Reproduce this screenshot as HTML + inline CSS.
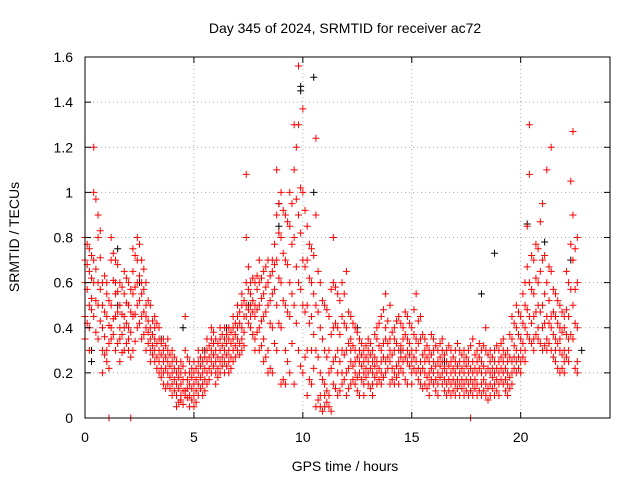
<!DOCTYPE html>
<html><head><meta charset="utf-8"><style>
body{margin:0;background:#fff;}
svg text{font-family:"Liberation Sans",sans-serif;font-size:14px;fill:#000;}
</style></head><body>
<svg id="chart" width="640" height="480" viewBox="0 0 640 480" xmlns="http://www.w3.org/2000/svg">
<rect x="0" y="0" width="640" height="480" fill="#fff"/>
<g id="grid"></g>
<g id="black"></g>
<g id="red"></g>
<rect x="85" y="57" width="525" height="361" fill="none" stroke="#000" stroke-width="1"/>
<g id="ticks"></g>
<text x="345" y="33" text-anchor="middle">Day 345 of 2024, SRMTID for receiver ac72</text>
<text x="345" y="471" text-anchor="middle">GPS time / hours</text>
<text x="19" y="237" text-anchor="middle" transform="rotate(-90 19 237)">SRMTID / TECUs</text>
</svg>
<script>
const xTicks=[0,5,10,15,20];
const yTicks=[0,0.2,0.4,0.6,0.8,1,1.2,1.4,1.6];
const yTickLabels=["0","0.2","0.4","0.6","0.8","1","1.2","1.4","1.6"];
const redTimes=[0,0.2,0.4,0.6,0.8,1,1.2,1.4,1.6,1.8,2,2.2,2.4,2.6,2.8,3,3.2,3.4,3.6,3.8,4,4.2,4.4,4.6,4.8,5,5.2,5.4,5.6,5.8,6,6.2,6.4,6.6,6.8,7,7.2,7.4,7.6,7.8,8,8.2,8.4,8.6,8.8,9,9.2,9.4,9.6,9.8,10,10.2,10.4,10.6,10.8,11,11.2,11.4,11.6,11.8,12,12.2,12.4,12.6,12.8,13,13.2,13.4,13.6,13.8,14,14.2,14.4,14.6,14.8,15,15.2,15.4,15.6,15.8,16,16.2,16.4,16.6,16.8,17,17.2,17.4,17.6,17.8,18,18.2,18.4,18.6,18.8,19,19.2,19.4,19.6,19.8,20,20.2,20.4,20.6,20.8,21,21.2,21.4,21.6,21.8,22,22.2,22.4,22.6];
const redValues=[[.45,.6,.7,.35,.8],[.5,.65,.75,.4,.3],[1.0,.6,.7,.45,1.2],[.8,.9,.6,.5,.35],[.5,.4,.3,.6,.2],[.45,.55,.3,.6,.25],[.5,.4,.7,.35,.8],[.45,.55,.3,.6,.7],[.4,.5,.35,.25,.6],[.45,.55,.3,.65,.4],[.4,.5,.6,.35,.3],[.45,.55,.75,.3,.65],[.5,.6,.7,.4,.8],[.55,.6,.45,.35,.7],[.5,.4,.6,.3,.45],[.4,.35,.3,.5,.25],[.35,.3,.25,.4,.45],[.3,.35,.2,.25,.4],[.3,.25,.2,.35,.15],[.25,.2,.3,.15,.35],[.2,.15,.25,.1,.3],[.15,.1,.2,.05,.25],[.15,.1,.2,.25,.08],[.2,.12,.3,.1,.45],[.15,.1,.2,.25,.05],[.15,.1,.2,.05,.25],[.2,.15,.1,.25,.3],[.2,.25,.15,.3,.1],[.25,.3,.2,.15,.35],[.25,.3,.2,.35,.4],[.3,.25,.2,.35,.15],[.3,.35,.25,.2,.4],[.3,.25,.35,.2,.4],[.35,.3,.4,.25,.2],[.35,.4,.3,.45,.25],[.4,.35,.3,.45,.5],[.4,.5,.35,.3,.55],[.6,.8,1.08,.5,.45],[.55,.6,.5,.45,.4],[.5,.45,.6,.35,.3],[.5,.6,.4,.3,.7],[.55,.45,.35,.65,.25],[.6,.5,.7,.3,.2],[.65,.55,.4,.7,.2],[.9,1.1,.7,.5,.3],[1.0,.8,.6,.4,.15],[.9,.7,.5,.3,.15],[.85,.6,.45,1.0,.2],[1.3,1.1,.8,.5,.15],[1.56,1.3,.9,.6,.3],[1.37,1.0,.7,.5,.2],[.85,.7,.5,.3,.1],[.75,.6,.45,.3,.15],[1.24,.9,.5,.3,.05],[.6,.4,.2,.1,.05],[.5,.3,.15,.05,.1],[.45,.3,.2,.1,.05],[.6,.4,.25,.15,.8],[.55,.4,.3,.2,.1],[.6,.45,.3,.2,.15],[.65,.4,.3,.2,.1],[.45,.35,.25,.15,.3],[.4,.3,.2,.15,.25],[.35,.25,.2,.1,.3],[.3,.2,.15,.25,.1],[.35,.25,.2,.15,.3],[.3,.2,.15,.25,.1],[.35,.25,.2,.4,.15],[.45,.3,.2,.15,.25],[.55,.35,.25,.2,.4],[.5,.35,.25,.15,.3],[.4,.3,.2,.15,.35],[.45,.3,.25,.2,.15],[.4,.35,.25,.2,.3],[.45,.35,.25,.15,.3],[.4,.3,.2,.15,.25],[.55,.35,.25,.2,.3],[.45,.35,.25,.2,.15],[.35,.3,.2,.15,.25],[.3,.25,.2,.1,.15],[.35,.25,.2,.15,.3],[.3,.2,.15,.1,.25],[.3,.25,.2,.15,.35],[.25,.2,.15,.1,.3],[.3,.25,.2,.15,.1],[.25,.2,.15,.1,.3],[.3,.2,.15,.1,.25],[.25,.2,.15,.1,.3],[.2,.15,.1,.25,.3],[.35,.25,.15,.1,.2],[.3,.2,.15,.1,.25],[.25,.2,.15,.1,.3],[.3,.2,.15,.1,.4],[.3,.25,.15,.1,.2],[.25,.2,.15,.1,.3],[.3,.2,.15,.1,.25],[.3,.25,.2,.15,.35],[.3,.2,.15,.25,.1],[.35,.25,.2,.15,.45],[.4,.3,.2,.25,.5],[.45,.35,.25,.2,.3],[.5,.4,.3,.25,.6],[1.3,1.08,.6,.45,.35],[.7,.55,.45,.35,.3],[.75,.6,.5,.4,.35],[.95,.7,.5,.4,.3],[1.1,.6,.45,.35,.3],[1.2,.65,.45,.4,.3],[.55,.45,.35,.3,.25],[.5,.4,.35,.3,.2],[.45,.4,.3,.25,.2],[.6,.45,.35,.3,.25],[.9,.7,.5,.35,1.27],[.8,.6,.4,.25,.2]];
const redTimes2=[0.1,0.3,0.5,0.7,0.9,1.1,1.3,1.5,1.7,1.9,2.1,2.3,2.5,2.7,2.9,3.1,3.3,3.5,3.7,3.9,4.1,4.3,4.5,4.7,4.9,5.1,5.3,5.5,5.7,5.9,6.1,6.3,6.5,6.7,6.9,7.1,7.3,7.5,7.7,7.9,8.1,8.3,8.5,8.7,8.9,9.1,9.3,9.5,9.7,9.9,10.1,10.3,10.5,10.7,10.9,11.1,11.3,11.5,11.7,11.9,12.1,12.3,12.5,12.7,12.9,13.1,13.3,13.5,13.7,13.9,14.1,14.3,14.5,14.7,14.9,15.1,15.3,15.5,15.7,15.9,16.1,16.3,16.5,16.7,16.9,17.1,17.3,17.5,17.7,17.9,18.1,18.3,18.5,18.7,18.9,19.1,19.3,19.5,19.7,19.9,20.1,20.3,20.5,20.7,20.9,21.1,21.3,21.5,21.7,21.9,22.1,22.3,22.5,22.7];
const redValues2=[[.57,.68,.42,.77],[.62,.48,.53,.72],[.97,.66,.52,.38],[.83,.71,.43,.57],[.47,.36,.63,.28],[.52,.33,.41,.22],[.61,.44,.37,.73],[.56,.47,.33,.68],[.46,.37,.58,.29],[.51,.42,.33,.62],[.47,.38,.57,.27],[.58,.46,.72,.34],[.63,.52,.42,.77],[.57,.47,.37,.66],[.43,.52,.33,.38],[.37,.43,.28,.32],[.33,.27,.42,.22],[.28,.33,.22,.18],[.27,.22,.32,.13],[.23,.18,.13,.28],[.17,.22,.12,.27],[.13,.07,.18,.22],[.12,.17,.23,.06],[.17,.13,.27,.09],[.13,.08,.18,.22],[.17,.12,.22,.07],[.18,.13,.23,.27],[.22,.27,.17,.12],[.27,.22,.32,.17],[.28,.23,.33,.38],[.27,.33,.22,.18],[.32,.27,.37,.23],[.28,.33,.23,.37],[.33,.38,.27,.22],[.37,.32,.42,.27],[.42,.33,.47,.28],[.45,.38,.52,.32],[.57,.67,.48,.42],[.52,.62,.47,.37],[.48,.57,.38,.63],[.53,.43,.62,.32],[.58,.47,.67,.27],[.63,.52,.42,.22],[.68,.57,.77,.33],[.95,.82,.62,.42],[.92,.73,.52,.17],[.87,.68,.47,.25],[.95,.77,.55,.33],[1.2,.97,.67,.42],[1.02,.82,.57,.23],[.92,.67,.47,.27],[.77,.62,.42,.17],[.72,.55,.37,.22],[.65,.47,.27,.08],[.52,.35,.17,.03],[.48,.27,.12,.07],[.57,.37,.22,.03],[.58,.42,.27,.13],[.52,.37,.25,.12],[.55,.42,.28,.17],[.47,.33,.22,.13],[.42,.32,.23,.17],[.38,.27,.18,.12],[.33,.23,.17,.28],[.32,.22,.18,.27],[.28,.22,.13,.33],[.37,.27,.18,.23],[.42,.32,.22,.17],[.48,.33,.27,.18],[.43,.33,.22,.27],[.38,.28,.22,.17],[.43,.33,.23,.18],[.42,.32,.22,.27],[.47,.37,.27,.17],[.42,.33,.23,.28],[.48,.37,.27,.22],[.43,.33,.22,.17],[.37,.28,.22,.13],[.32,.27,.18,.13],[.37,.28,.22,.17],[.32,.23,.17,.12],[.33,.27,.18,.23],[.28,.22,.17,.12],[.32,.23,.17,.12],[.27,.22,.17,.12],[.33,.23,.17,.13],[.28,.22,.13,.17],[.23,.17,.12,.27],[.32,.22,.17,.12],[.28,.22,.13,.17],[.27,.22,.12,.33],[.32,.23,.17,.12],[.28,.22,.13,.08],[.27,.18,.13,.22],[.32,.22,.17,.12],[.33,.27,.17,.22],[.28,.22,.17,.12],[.37,.27,.18,.13],[.42,.32,.22,.27],[.47,.37,.27,.22],[.55,.42,.33,.27],[.85,.67,.48,.37],[.72,.57,.42,.33],[.77,.62,.47,.37],[.87,.65,.47,.33],[.72,.55,.42,.32],[.67,.52,.42,.33],[.57,.47,.37,.27],[.52,.42,.33,.22],[.47,.38,.28,.22],[.65,.48,.37,.27],[1.05,.77,.57,.37],[.75,.57,.42,.22]];
const redZeroTimes=[1.1,2.1,17.7];
const blackTimes=[0.3,0.3,1.5,1.5,2.5,3.5,4.5,5.5,6.5,7.5,8.9,8.9,9.9,9.9,10.5,10.5,12.5,14.5,16.5,18.2,18.8,20.3,21.1,22.3,22.8];
const blackValues=[.3,.25,.75,.5,.6,.35,.4,.3,.4,.5,.85,.95,1.45,1.47,1.51,1.0,.4,.3,.25,.55,.73,.86,.78,.7,.3];
const NS="http://www.w3.org/2000/svg";
const X0=85,X1=610,Y0=418,Y1=57,XMAX=24.1,YMAX=1.6;
function xs(t){return X0+(X1-X0)*t/XMAX;}
function ys(v){return Y0-(Y0-Y1)*v/YMAX;}
function line(g,x1,y1,x2,y2,stroke,extra){const l=document.createElementNS(NS,'line');l.setAttribute('x1',x1);l.setAttribute('y1',y1);l.setAttribute('x2',x2);l.setAttribute('y2',y2);l.setAttribute('stroke',stroke);if(extra)l.setAttribute('stroke-dasharray',extra);g.appendChild(l);return l;}
function plus(g,t,v,color){const p=document.createElementNS(NS,'path');const x=xs(t),y=ys(v);p.setAttribute('d',`M${x-3.5},${y}H${x+3.5}M${x},${y-3.5}V${y+3.5}`);p.setAttribute('stroke',color);p.setAttribute('stroke-width','1');


g.appendChild(p);}
const grid=document.getElementById('grid'),ticks=document.getElementById('ticks');
xTicks.forEach(t=>{const x=xs(t);if(t>0)line(grid,x,Y1,x,Y0,'#aaa','1,3');line(ticks,x,Y0,x,Y0-6,'#000');line(ticks,x,Y1,x,Y1+6,'#000');
const tx=document.createElementNS(NS,'text');tx.setAttribute('x',x);tx.setAttribute('y',Y0+24);tx.setAttribute('text-anchor','middle');tx.textContent=t;


ticks.appendChild(tx);});
yTicks.forEach((v,i)=>{const y=ys(v);if(v>0&&v<YMAX)line(grid,X0,y,X1,y,'#aaa','1,3');line(ticks,X0,y,X0+6,y,'#000');line(ticks,X1,y,X1-6,y,'#000');
const tx=document.createElementNS(NS,'text');tx.setAttribute('x',X0-12);tx.setAttribute('y',y+5);tx.setAttribute('text-anchor','end');tx.textContent=yTickLabels[i];


ticks.appendChild(tx);});
const bg=document.getElementById('black'),rg=document.getElementById('red');
blackTimes.forEach((t,i)=>plus(bg,t,blackValues[i],'#000'));
const n1=Math.min(redTimes.length,redValues.length);
for(let i=0;i<n1;i++){redValues[i].forEach(v=>plus(rg,redTimes[i],v,'#f00'));}
const n2=Math.min(redTimes2.length,redValues2.length);
for(let i=0;i<n2;i++){redValues2[i].forEach(v=>plus(rg,redTimes2[i],v,'#f00'));}
redZeroTimes.forEach(t=>plus(rg,t,0,'#f00'));
</script>
</body></html>
